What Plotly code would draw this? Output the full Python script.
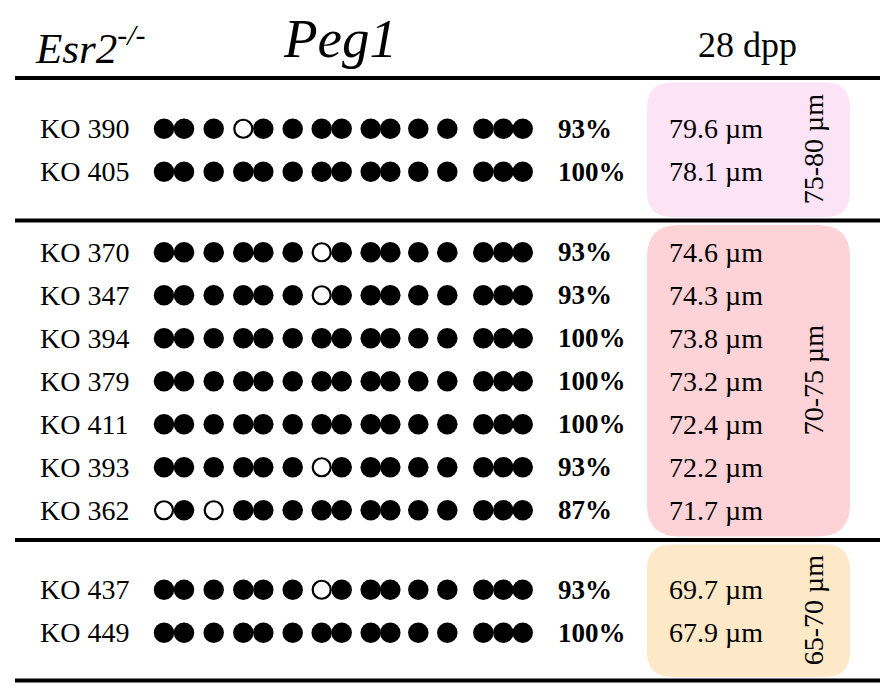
import plotly.graph_objects as go

# Peg1 methylation in Esr2-/- oocytes at 28 dpp, grouped by oocyte diameter
samples = ["KO 390", "KO 405",
           "KO 370", "KO 347", "KO 394", "KO 379", "KO 411", "KO 393", "KO 362",
           "KO 437", "KO 449"]
# 1 = methylated CpG (filled), 0 = unmethylated (open)
patterns = ["111011111111111", "111111111111111",
            "111111011111111", "111111011111111", "111111111111111",
            "111111111111111", "111111111111111", "111111011111111",
            "010111111111111",
            "111111011111111", "111111111111111"]
diameters = [79.6, 78.1, 74.6, 74.3, 73.8, 73.2, 72.4, 72.2, 71.7, 69.7, 67.9]
size_groups = ["75-80 µm", "70-75 µm", "65-70 µm"]
group_counts = [2, 7, 2]
group_colors = ["#fce3f6", "#fdd3d7", "#fde8c8"]
# relative position of the 15 CpG sites along the amplicon
cpg_pos = [164, 184, 213.7, 243.3, 263.3, 292.7, 321.7, 341.7, 370.7,
           390.3, 418.3, 447.3, 483.3, 503.3, 522.7]

W, H = 892, 698
FONT = "Liberation Serif, Times New Roman, serif"
bounds = [78, 220.5, 540, 680.5]   # horizontal rules between size groups
row_step = 43
box_x0, box_x1 = 647, 850


def rounded(x0, y0, x1, y1, r):
    return (f"M {x0+r},{y0} L {x1-r},{y0} Q {x1},{y0} {x1},{y0+r} "
            f"L {x1},{y1-r} Q {x1},{y1} {x1-r},{y1} L {x0+r},{y1} "
            f"Q {x0},{y1} {x0},{y1-r} L {x0},{y0+r} Q {x0},{y0} {x0+r},{y0} Z")


# row centres inside each group
row_y = []
for g, n in enumerate(group_counts):
    mid = (bounds[g] + bounds[g + 1]) / 2 + 1
    for k in range(n):
        row_y.append(mid + (k - (n - 1) / 2) * row_step)

fx, fy, ox, oy = [], [], [], []
for pat, y in zip(patterns, row_y):
    for c, x in zip(pat, cpg_pos):
        if c == "1":
            fx.append(x); fy.append(y)
        else:
            ox.append(x); oy.append(y)

fig = go.Figure()
fig.add_trace(go.Scatter(x=fx, y=fy, mode="markers", hoverinfo="skip",
                         marker=dict(size=20.5, color="black", line_width=0)))
fig.add_trace(go.Scatter(x=ox, y=oy, mode="markers", hoverinfo="skip",
                         marker=dict(size=18, color="white",
                                     line=dict(color="black", width=2.2))))

shapes = []
for b in bounds:
    shapes.append(dict(type="line", x0=15, x1=880, y0=b, y1=b,
                       line=dict(color="black", width=4)))
radii = [25, 32, 25]
for g in range(3):
    shapes.append(dict(type="path",
                       path=rounded(box_x0, bounds[g] + 4.5, box_x1, bounds[g + 1] - 3.5, radii[g]),
                       fillcolor=group_colors[g], line_width=0, layer="below"))

ann = []
def txt(x, y, s, size, xanchor="left", bold=False, italic=False, angle=0):
    if bold:
        s = f"<b>{s}</b>"
    if italic:
        s = f"<i>{s}</i>"
    ann.append(dict(x=x, y=y, text=s, showarrow=False, xanchor=xanchor,
                    yanchor="middle", textangle=angle,
                    font=dict(family=FONT, size=size, color="black")))

for s, pat, d, y in zip(samples, patterns, diameters, row_y):
    pct = round(100 * pat.count("1") / len(pat))
    txt(38, y, s, 28)
    txt(556, y, f"{pct}%", 27, bold=True)
    txt(667, y, f"{d} µm", 28)

for g, lab in enumerate(size_groups):
    mid = (bounds[g] + bounds[g + 1]) / 2
    txt(813, mid, lab, 28, xanchor="center", angle=-90)

txt(33, 45, "Esr2<sup>-/-</sup>", 43, italic=True)
txt(340, 38, "Peg1", 55, xanchor="center", italic=True)
txt(747, 45, "28 dpp", 36, xanchor="center")

fig.update_layout(
    width=W, height=H, margin=dict(l=0, r=0, t=0, b=0),
    paper_bgcolor="white", plot_bgcolor="white", showlegend=False,
    shapes=shapes, annotations=ann,
    xaxis=dict(range=[0, W], visible=False, fixedrange=True),
    yaxis=dict(range=[H, 0], visible=False, fixedrange=True),
)

fig.write_html("out.html", config={"displayModeBar": False},
               post_script="document.body.style.margin='0';")
